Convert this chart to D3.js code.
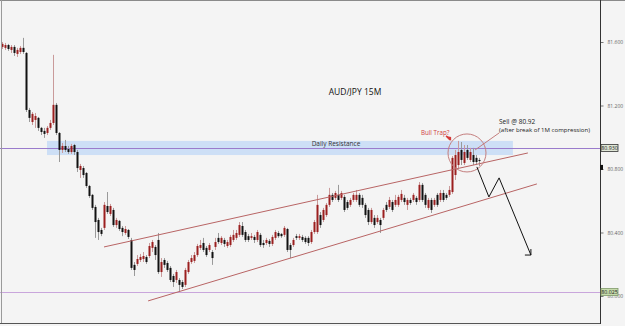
<!DOCTYPE html>
<html><head><meta charset="utf-8">
<script src="https://cdn.jsdelivr.net/npm/d3@7"></script>
<style>html,body{margin:0;padding:0;background:#f4f4f4;overflow:hidden}svg{display:block}</style>
</head><body><svg id="c" width="625" height="326"></svg>
<script>
const opens = [81.569,81.563,81.581,81.550,81.569,81.525,81.537,81.563,81.531,81.172,
81.096,81.109,81.122,81.059,81.040,81.027,81.059,81.090,81.204,81.027,
80.920,80.945,80.926,80.907,80.951,80.907,80.794,80.806,80.775,80.693,
80.637,80.561,80.479,80.416,80.429,80.567,80.517,80.542,80.447,80.473,
80.429,80.397,80.416,80.353,80.196,80.202,80.227,80.233,80.246,80.252,
80.303,80.309,80.353,80.151,80.227,80.208,80.177,80.126,80.101,80.101,
80.088,80.070,80.151,80.214,80.221,80.258,80.303,80.334,80.303,80.290,
80.277,80.309,80.366,80.334,80.353,80.315,80.321,80.353,80.366,80.385,
80.441,80.403,80.377,80.366,80.372,80.353,80.385,80.334,80.334,80.347,
80.328,80.366,80.397,80.391,80.385,80.422,80.321,80.321,80.377,80.366,
80.372,80.366,80.366,80.340,80.403,80.403,80.510,80.479,80.510,80.574,
80.637,80.618,80.637,80.618,80.624,80.592,80.574,80.605,80.605,80.637,
80.618,80.574,80.542,80.466,80.492,80.466,80.479,80.492,80.574,80.561,
80.592,80.574,80.574,80.605,80.618,80.574,80.605,80.605,80.618,80.605,
80.700,80.637,80.555,80.605,80.574,80.637,80.605,80.649,80.637,80.637,
80.655,80.762,80.825,80.920,80.838,80.920,80.857,80.888,80.870,80.857];
const highs = [81.600,81.594,81.588,81.581,81.581,81.563,81.575,81.626,81.537,81.185,
81.159,81.153,81.128,81.065,81.059,81.071,81.109,81.519,81.216,81.033,
80.964,80.983,80.945,80.958,80.958,80.920,80.832,80.819,80.781,80.700,
80.643,80.574,80.492,80.429,80.592,80.655,80.580,80.555,80.492,80.479,
80.441,80.441,80.422,80.366,80.214,80.258,80.265,80.277,80.258,80.334,
80.353,80.321,80.397,80.239,80.239,80.221,80.189,80.139,80.164,80.113,
80.101,80.177,80.227,80.258,80.277,80.328,80.353,80.366,80.315,80.334,
80.290,80.366,80.397,80.377,80.366,80.353,80.385,80.416,80.416,80.466,
80.466,80.416,80.391,80.397,80.385,80.416,80.397,80.353,80.366,80.359,
80.385,80.416,80.410,80.397,80.441,80.429,80.334,80.366,80.391,80.391,
80.385,80.377,80.377,80.416,80.479,80.637,80.529,80.555,80.586,80.681,
80.649,80.662,80.700,80.662,80.637,80.605,80.618,80.649,80.668,80.649,
80.637,80.586,80.555,80.555,80.510,80.510,80.492,80.555,80.592,80.624,
80.605,80.637,80.637,80.668,80.637,80.618,80.618,80.649,80.630,80.718,
80.712,80.649,80.618,80.618,80.618,80.649,80.668,80.668,80.649,80.693,
80.882,80.920,80.977,80.970,80.951,80.951,80.933,80.933,80.888,80.870];
const lows = [81.556,81.550,81.544,81.531,81.512,81.506,81.525,81.525,81.159,81.096,
81.077,81.059,81.040,81.014,80.996,81.014,81.046,81.077,81.014,80.844,
80.901,80.907,80.895,80.895,80.888,80.781,80.744,80.744,80.681,80.618,
80.542,80.366,80.353,80.377,80.416,80.517,80.504,80.435,80.429,80.410,
80.377,80.385,80.359,80.164,80.126,80.189,80.214,80.214,80.202,80.239,
80.277,80.227,80.139,80.120,80.177,80.151,80.088,80.057,80.082,80.032,
80.044,80.057,80.139,80.202,80.208,80.246,80.290,80.277,80.246,80.277,
80.196,80.290,80.328,80.321,80.309,80.303,80.309,80.340,80.353,80.372,
80.372,80.340,80.340,80.353,80.334,80.340,80.309,80.303,80.321,80.309,
80.315,80.353,80.366,80.366,80.372,80.277,80.239,80.309,80.353,80.353,
80.340,80.328,80.315,80.328,80.391,80.391,80.429,80.466,80.498,80.561,
80.592,80.605,80.592,80.605,80.529,80.542,80.561,80.592,80.592,80.561,
80.555,80.492,80.447,80.454,80.429,80.454,80.397,80.479,80.529,80.548,
80.529,80.561,80.561,80.592,80.574,80.542,80.574,80.592,80.574,80.592,
80.592,80.555,80.542,80.523,80.561,80.561,80.592,80.592,80.605,80.624,
80.643,80.731,80.806,80.825,80.825,80.857,80.844,80.825,80.825,80.819];
const closes = [81.588,81.581,81.556,81.569,81.531,81.550,81.563,81.537,81.172,81.122,
81.147,81.134,81.059,81.033,81.021,81.059,81.090,81.204,81.027,80.920,
80.945,80.920,80.907,80.945,80.907,80.806,80.819,80.762,80.693,80.630,
80.555,80.466,80.403,80.391,80.574,80.529,80.567,80.447,80.479,80.422,
80.403,80.422,80.372,80.177,80.164,80.233,80.246,80.252,80.214,80.315,
80.340,80.258,80.151,80.214,80.196,80.164,80.101,80.088,80.151,80.070,
80.057,80.164,80.214,80.239,80.258,80.315,80.321,80.290,80.258,80.321,
80.239,80.340,80.340,80.366,80.328,80.340,80.372,80.385,80.397,80.447,
80.385,80.353,80.353,80.377,80.353,80.403,80.321,80.321,80.353,80.328,
80.372,80.403,80.377,80.377,80.429,80.290,80.290,80.353,80.366,80.377,
80.353,80.340,80.334,80.403,80.466,80.574,80.447,80.542,80.574,80.637,
80.605,80.649,80.605,80.649,80.542,80.555,80.605,80.637,80.637,80.574,
80.574,80.510,80.466,80.542,80.447,80.492,80.447,80.542,80.542,80.605,
80.542,80.605,80.624,80.643,80.592,80.605,80.586,80.637,80.592,80.700,
80.605,80.574,80.605,80.542,80.605,80.574,80.649,80.605,80.618,80.668,
80.870,80.888,80.907,80.857,80.907,80.870,80.907,80.844,80.844,80.850];

const axisTicks = [80.0, 80.4, 80.8, 81.2, 81.6];
const levelPrices = [80.930, 80.025];
const levelLabels = ["80.930", "80.025"];
const resistanceZone = [[15, 80.977], [170.3, 80.888]];
const upperChannel = [[34, 80.309], [175.3, 80.901]];
const lowerChannel = [[48.7, 79.969], [178.3, 80.706]];
const projectedPath = [[158.3, 80.813], [162.3, 80.624], [165.7, 80.744], [176.3, 80.258]];
const trapCircle = [155, 80.901];
const sellPointer = [[165.7, 81.027], [157.7, 80.920]];
const trapMarker = [148.7, 80.996];
const currentPrice = 80.81;

const svg = d3.select("#c");
const W = 625, H = 326, axisX = 600, bottomY = 324;
const x = d3.scaleLinear().domain([0, opens.length - 1]).range([2, 479]);
const y = d3.scaleLinear().domain([80, 81.6]).range([296, 42]);
const font = "'Open Sans', 'DejaVu Sans', sans-serif";

svg.append("rect").attr("width", W).attr("height", H).attr("fill", "#f4f4f4");

// resistance band
svg.append("rect")
  .attr("x", x(resistanceZone[0][0])).attr("y", y(resistanceZone[0][1]))
  .attr("width", x(resistanceZone[1][0]) - x(resistanceZone[0][0]))
  .attr("height", y(resistanceZone[1][1]) - y(resistanceZone[0][1]))
  .attr("fill", "#cddff6");

// horizontal levels
svg.selectAll("line.level").data(levelPrices).join("line")
  .attr("x1", 0).attr("x2", axisX)
  .attr("y1", d => Math.round(y(d)) + 0.5).attr("y2", d => Math.round(y(d)) + 0.5)
  .attr("stroke", (d, i) => i === 0 ? "#9a7bcc" : "#c9a6dc").attr("stroke-width", 1);

svg.append("text").attr("x", 336).attr("y", 145.5).attr("text-anchor", "middle")
  .attr("font-family", font).attr("font-size", 6.5).attr("fill", "#333").text("Daily Resistance");

// candles
const idx = d3.range(opens.length);
const bull = i => closes[i] >= opens[i];
svg.append("g").selectAll("line").data(idx).join("line")
  .attr("x1", i => Math.round(x(i)) + 0.5).attr("x2", i => Math.round(x(i)) + 0.5)
  .attr("y1", i => y(highs[i])).attr("y2", i => y(lows[i]))
  .attr("stroke", i => bull(i) ? "#c99a9a" : "#9a9a9a").attr("stroke-width", 1);
svg.append("g").selectAll("rect").data(idx).join("rect")
  .attr("x", i => Math.round(x(i)) - 0.5).attr("width", 2)
  .attr("y", i => y(Math.max(opens[i], closes[i])))
  .attr("height", i => Math.max(1, Math.abs(y(opens[i]) - y(closes[i]))))
  .attr("fill", i => bull(i) ? "#9b1f1f" : "#111");

// channel lines
const line = d3.line().x(d => x(d[0])).y(d => y(d[1]));
[upperChannel, lowerChannel].forEach(c => {
  svg.append("path").attr("d", line(c)).attr("fill", "none")
    .attr("stroke", "#b86464").attr("stroke-width", 1);
});

// circle
svg.append("circle").attr("cx", x(trapCircle[0])).attr("cy", y(trapCircle[1])).attr("r", 19)
  .attr("fill", "none").attr("stroke", "#c47e7e").attr("stroke-width", 1);

// sell pointer
svg.append("path").attr("d", line(sellPointer)).attr("fill", "none")
  .attr("stroke", "#c47e7e").attr("stroke-width", 1);

// projected path
svg.append("path").attr("d", line(projectedPath)).attr("fill", "none")
  .attr("stroke", "#111").attr("stroke-width", 1);
const endP = projectedPath[projectedPath.length - 1];
const ex = x(endP[0]), ey = y(endP[1]);
svg.append("path").attr("d", `M${ex - 6},${ey} L${ex},${ey} L${ex},${ey - 6}`)
  .attr("fill", "none").attr("stroke", "#111").attr("stroke-width", 1);

// bull trap marker
const mx = x(trapMarker[0]), my = y(trapMarker[1]);
svg.append("path").attr("d", `M${mx - 2},${my - 2} L${mx + 3},${my + 3} L${mx + 3},${my - 1} Z`)
  .attr("fill", "#d43a3a");
svg.append("path").attr("d", `M${mx - 2},${my - 2} L${mx + 2},${my + 2}`)
  .attr("stroke", "#d43a3a").attr("stroke-width", 1.5);

// texts
svg.append("text").attr("x", 355).attr("y", 95).attr("text-anchor", "middle")
  .attr("font-family", font).attr("font-size", 8.5).attr("fill", "#111").text("AUD/JPY 15M");
svg.append("text").attr("x", 421).attr("y", 134.5).attr("font-family", font)
  .attr("font-size", 6.2).attr("fill", "#d04040").text("Bull Trap?");
svg.append("text").attr("x", 499).attr("y", 124).attr("font-family", font)
  .attr("font-size", 6.5).attr("fill", "#222").text("Sell @ 80.92");
svg.append("text").attr("x", 499).attr("y", 132).attr("font-family", font)
  .attr("font-size", 6.1).attr("fill", "#222").text("(after break of 1M compression)");

// borders
svg.append("line").attr("x1", 0).attr("x2", W).attr("y1", 0.5).attr("y2", 0.5).attr("stroke", "#8a8a8a");
svg.append("line").attr("x1", 1.5).attr("x2", 1.5).attr("y1", 0).attr("y2", bottomY).attr("stroke", "#9a9a9a");
svg.append("line").attr("x1", 0).attr("x2", axisX).attr("y1", bottomY - 0.5).attr("y2", bottomY - 0.5).attr("stroke", "#555");

// right axis
const axis = d3.axisRight(y).tickValues(axisTicks).tickFormat(d3.format(".3f")).tickSize(3).tickPadding(4);
const ag = svg.append("g").attr("transform", `translate(${axisX + 0.5},0)`).call(axis);
ag.select(".domain").remove();
ag.selectAll(".tick line").attr("stroke", "#777");
ag.selectAll(".tick text").attr("font-family", font).attr("font-size", 5).attr("fill", "#666");
svg.append("line").attr("x1", axisX + 0.5).attr("x2", axisX + 0.5).attr("y1", 0).attr("y2", bottomY)
  .attr("stroke", "#333");

// current price marker
svg.append("rect").attr("x", axisX).attr("y", y(currentPrice) - 2.5).attr("width", 3).attr("height", 5).attr("fill", "#111");

// level labels
const lg = svg.selectAll("g.lvl").data(levelPrices).join("g")
  .attr("transform", d => `translate(${axisX + 1},${Math.round(y(d))})`);
lg.append("rect").attr("x", 0).attr("y", -3.5).attr("width", 17).attr("height", 7)
  .attr("fill", (d, i) => i === 0 ? "#dfe6d6" : "#c6dbab")
  .attr("stroke", (d, i) => i === 0 ? "#333" : "#7f9a6a").attr("stroke-width", 0.8);
lg.append("text").attr("x", 8.5).attr("y", 2.2).attr("text-anchor", "middle")
  .attr("font-family", font).attr("font-size", 5.3).attr("fill", "#222")
  .text((d, i) => levelLabels[i]);
</script></body></html>
